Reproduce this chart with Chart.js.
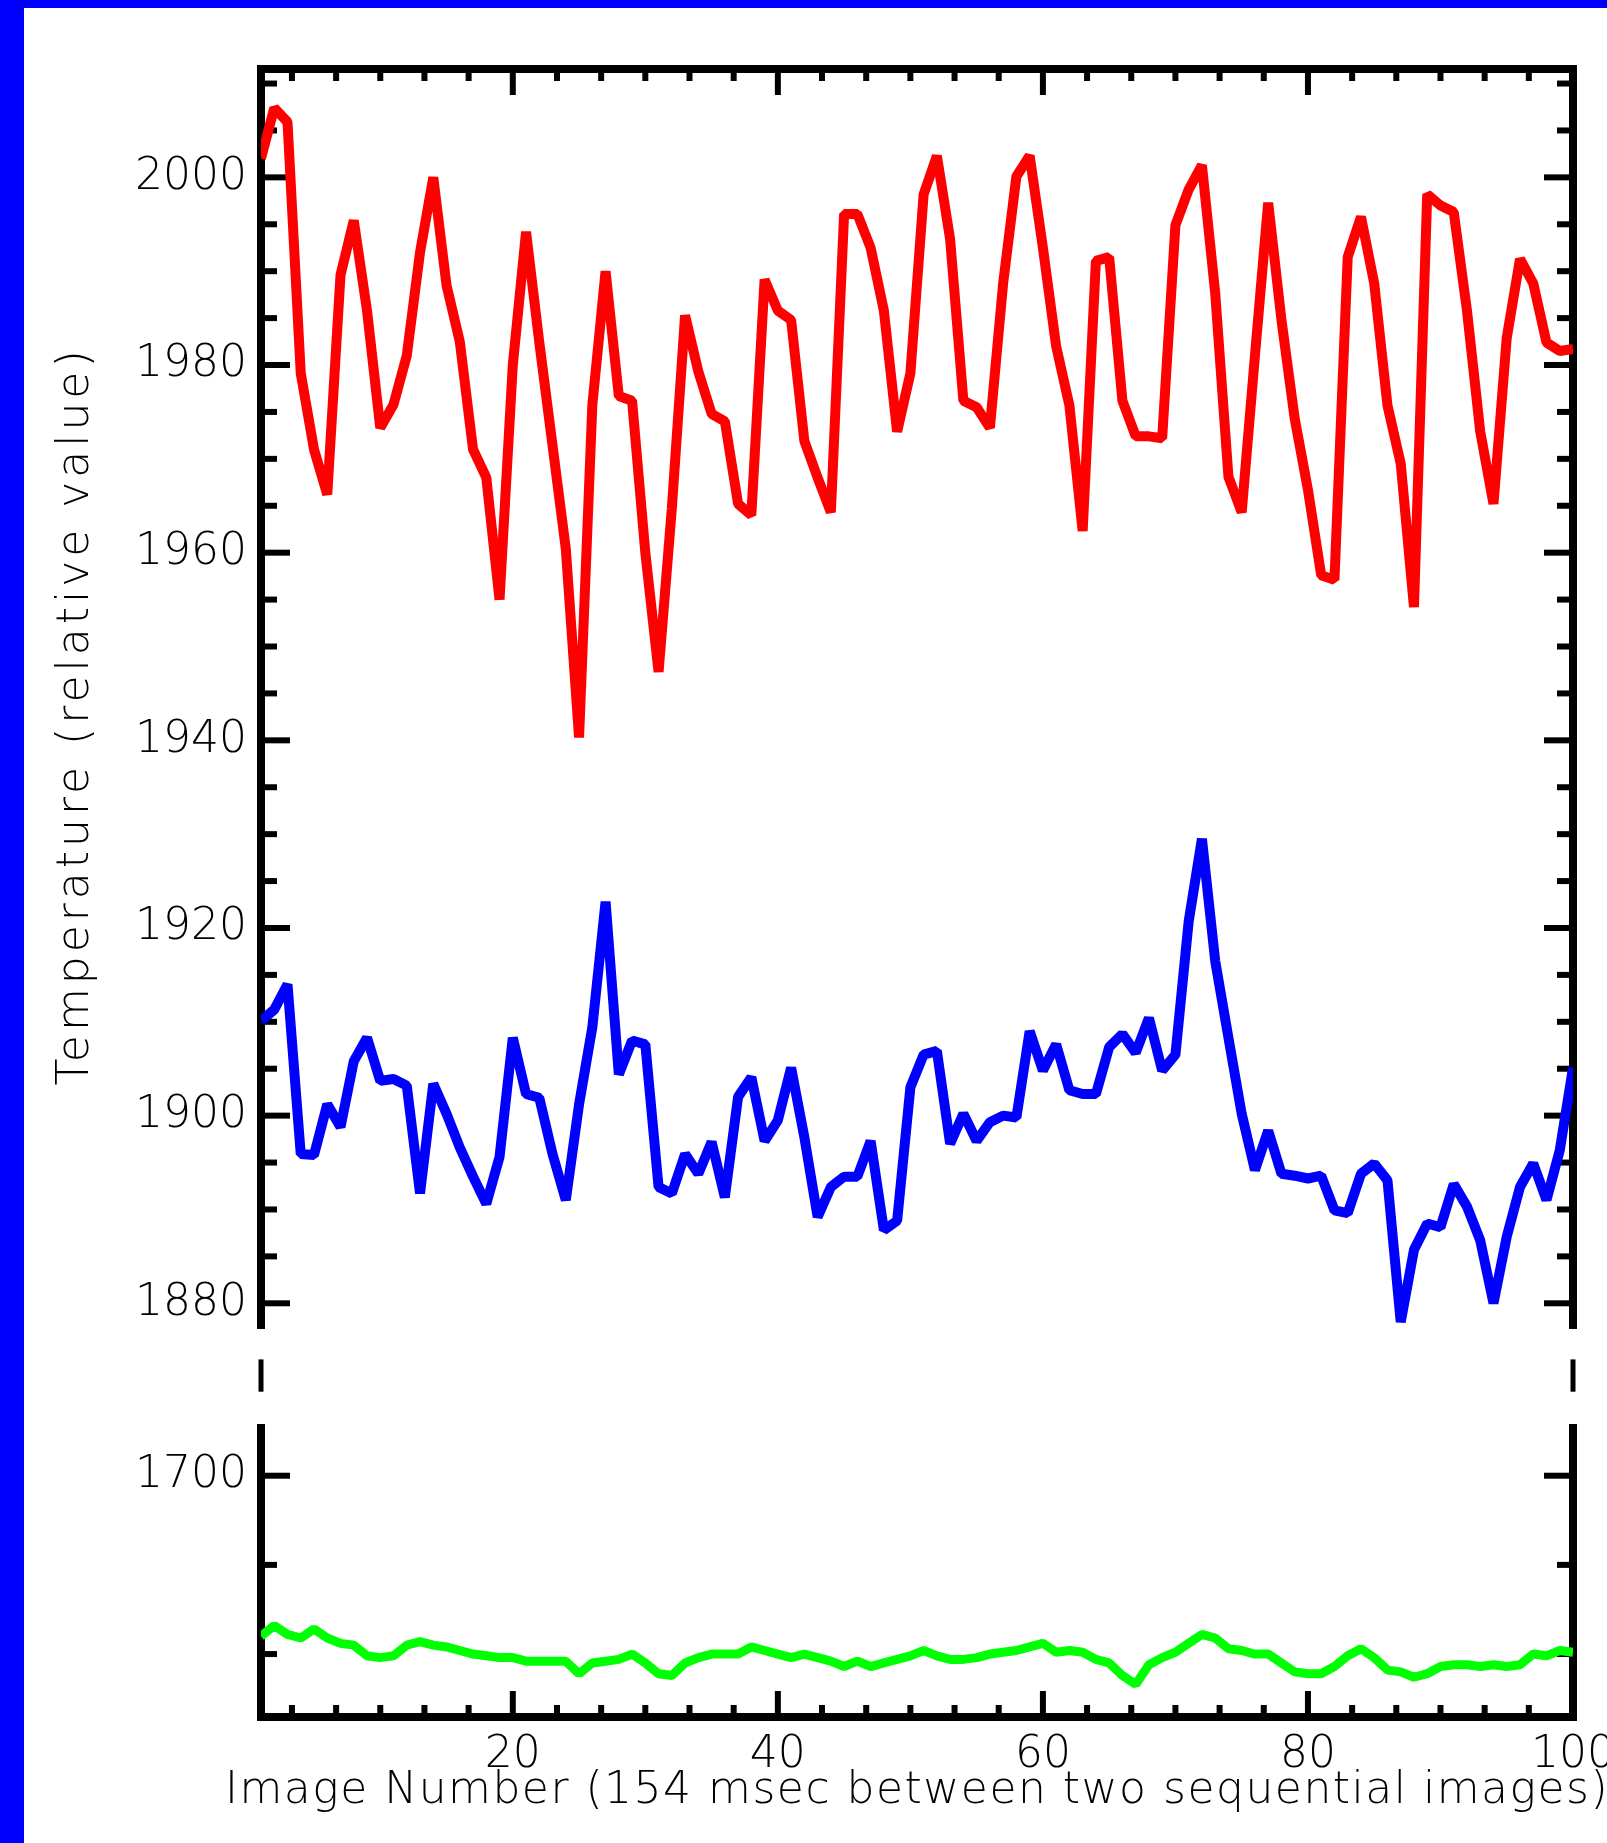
<!DOCTYPE html>
<html>
<head>
<meta charset="utf-8">
<script src="https://cdn.jsdelivr.net/npm/chart.js@4.4.1/dist/chart.umd.min.js"></script>
<style>
  html, body { margin: 0; padding: 0; background: #fff; }
  body { width: 1607px; height: 1843px; position: relative; overflow: hidden; }
  .bar { position: absolute; background: #0000ff; }
  #cv { position: absolute; left: 0; top: 0; }
</style>
</head>
<body>
<div class="bar" style="left:0;top:0;width:24px;height:1843px"></div>
<div class="bar" style="left:0;top:0;width:1607px;height:8px"></div>
<canvas id="cv" width="1607" height="1843"></canvas>
<script>
// image index along the x axis
const imageNumber = Array.from({ length: 100 }, (_, i) => i + 1);

// upper panel, red curve
const redTemp = [
  2002.0, 2007.4, 2005.9, 1979.1, 1971.0, 1966.2, 1989.6, 1995.4, 1985.8, 1973.3,
  1975.8, 1981.0, 1992.0, 2000.0, 1988.5, 1982.5, 1971.0, 1968.0, 1955.0, 1980.0,
  1994.2, 1982.4, 1971.4, 1960.4, 1940.3, 1975.7, 1990.0, 1976.7, 1976.2, 1960.0,
  1947.3, 1964.7, 1985.3, 1979.3, 1974.8, 1974.0, 1965.2, 1964.0, 1989.1, 1985.8,
  1984.8, 1971.9, 1968.0, 1964.3, 1996.1, 1996.1, 1992.5, 1985.8, 1972.9, 1979.1,
  1998.2, 2002.3, 1993.4, 1976.2, 1975.5, 1973.3, 1988.7, 2000.1, 2002.3, 1992.5,
  1982.0, 1975.7, 1962.3, 1991.1, 1991.5, 1976.2, 1972.4, 1972.4, 1972.2, 1994.9,
  1998.7, 2001.3, 1987.7, 1968.1, 1964.3, 1981.0, 1997.3, 1984.8, 1974.3, 1966.7,
  1957.6, 1957.1, 1991.5, 1995.8, 1988.7, 1975.7, 1969.5, 1954.2, 1998.2, 1997.0,
  1996.3, 1985.8, 1972.9, 1965.2, 1982.9, 1991.3, 1988.7, 1982.4, 1981.5, 1981.7
];

// upper panel, blue curve
const blueTemp = [
  1910.1, 1911.3, 1914.0, 1895.9, 1895.8, 1901.2, 1898.8, 1905.8, 1908.3, 1903.7,
  1903.9, 1903.2, 1891.7, 1903.4, 1900.2, 1896.6, 1893.5, 1890.6, 1895.6, 1908.3,
  1902.3, 1901.9, 1895.9, 1891.0, 1901.2, 1909.4, 1922.8, 1904.4, 1908.0, 1907.6,
  1892.4, 1891.7, 1895.9, 1893.8, 1897.2, 1891.3, 1902.0, 1904.1, 1897.3, 1899.5,
  1905.1, 1897.7, 1889.2, 1892.4, 1893.5, 1893.5, 1897.3, 1887.8, 1888.8, 1903.0,
  1906.5, 1906.9, 1897.0, 1900.2, 1897.3, 1899.3, 1900.0, 1899.8, 1909.0, 1904.8,
  1907.6, 1902.7, 1902.3, 1902.3, 1907.3, 1908.7, 1906.7, 1910.4, 1904.8, 1906.5,
  1920.7, 1929.5, 1916.5, 1908.3, 1900.2, 1894.2, 1898.4, 1893.8, 1893.6, 1893.3,
  1893.6, 1889.9, 1889.6, 1893.8, 1894.9, 1893.1, 1878.0, 1885.7, 1888.5, 1888.1,
  1892.7, 1890.3, 1886.7, 1880.0, 1887.1, 1892.4, 1894.9, 1891.0, 1896.3, 1905.1
];

// lower panel, green curve
const greenTemp = [
  1691.0, 1691.6, 1691.1, 1690.9, 1691.4, 1690.9, 1690.6, 1690.5, 1689.9, 1689.8,
  1689.9, 1690.5, 1690.7, 1690.5, 1690.4, 1690.2, 1690.0, 1689.9, 1689.8, 1689.8,
  1689.6, 1689.6, 1689.6, 1689.6, 1688.9, 1689.5, 1689.6, 1689.7, 1690.0, 1689.5,
  1688.9, 1688.8, 1689.5, 1689.8, 1690.0, 1690.0, 1690.0, 1690.4, 1690.2, 1690.0,
  1689.8, 1690.0, 1689.8, 1689.6, 1689.3, 1689.6, 1689.3, 1689.5, 1689.7, 1689.9,
  1690.2, 1689.9, 1689.7, 1689.7, 1689.8, 1690.0, 1690.1, 1690.2, 1690.4, 1690.6,
  1690.1, 1690.2, 1690.1, 1689.7, 1689.5, 1688.8, 1688.3, 1689.4, 1689.8, 1690.1,
  1690.6, 1691.1, 1690.9, 1690.3, 1690.2, 1690.0, 1690.0, 1689.5, 1689.0, 1688.9,
  1688.9, 1689.3, 1689.9, 1690.3, 1689.8, 1689.1, 1689.0, 1688.7, 1688.9, 1689.3,
  1689.4, 1689.4, 1689.3, 1689.4, 1689.3, 1689.4, 1690.0, 1689.9, 1690.2, 1690.1
];

const xTickLabels = [20, 40, 60, 80, 100];
const upperTickLabels = [1880, 1900, 1920, 1940, 1960, 1980, 2000];
const lowerTickLabels = [1700];

const xTitle = 'Image Number (154 msec between two sequential images)';
const yTitle = 'Temperature (relative value)';

const FONT = "'DejaVu Sans', sans-serif";
const LABEL_FONT = { family: FONT, size: 44, weight: 200 };
const pts = arr => arr.map((v, i) => ({ x: imageNumber[i], y: v }));

function line(ctx, x0, y0, x1, y1) {
  ctx.beginPath();
  ctx.moveTo(x0, y0);
  ctx.lineTo(x1, y1);
  ctx.stroke();
}

// IDL style frame: inward ticks on all sides, broken y axis
const idlFrame = {
  id: 'idlFrame',
  beforeDatasetsDraw(chart) {
    const { ctx, chartArea: a, scales } = chart;
    const top = scales.yTop, gap = scales.yGap, bot = scales.yBot, x = scales.x;
    ctx.save();
    ctx.strokeStyle = '#000';
    ctx.lineCap = 'butt';

    ctx.lineWidth = 8;
    line(ctx, a.left - 4, top.top, a.right + 4, top.top);
    line(ctx, a.left, top.top, a.left, top.bottom);
    line(ctx, a.right, top.top, a.right, top.bottom);
    line(ctx, a.left, bot.top, a.left, bot.bottom);
    line(ctx, a.right, bot.top, a.right, bot.bottom);
    line(ctx, a.left - 4, bot.bottom, a.right + 4, bot.bottom);

    // break marks
    ctx.lineWidth = 5;
    const g0 = gap.top + (gap.bottom - gap.top) * 0.32;
    const g1 = gap.top + (gap.bottom - gap.top) * 0.66;
    line(ctx, a.left, g0, a.left, g1);
    line(ctx, a.right, g0, a.right, g1);

    // y ticks every 5, long every 20
    ctx.lineWidth = 6;
    [top, bot].forEach(s => {
      for (let v = Math.ceil(s.min / 5) * 5; v <= s.max; v += 5) {
        const py = s.getPixelForValue(v);
        const len = v % 20 === 0 ? 29 : 16;
        line(ctx, a.left, py, a.left + len, py);
        line(ctx, a.right, py, a.right - len, py);
      }
    });

    // x ticks, six minor intervals per 20
    for (let k = 1; k * 20 / 6 < x.max; k++) {
      const px = x.getPixelForValue(k * 20 / 6);
      const len = k % 6 === 0 ? 26 : 12;
      line(ctx, px, top.top, px, top.top + len);
      line(ctx, px, bot.bottom, px, bot.bottom - len);
    }
    ctx.restore();
  },
  afterDraw(chart) {
    const { ctx, chartArea: a } = chart;
    ctx.save();
    ctx.fillStyle = '#000';
    ctx.font = '200 44px ' + FONT;
    ctx.textAlign = 'center';
    ctx.textBaseline = 'middle';
    ctx.letterSpacing = '1.5px';
    ctx.fillText(xTitle, (a.left + a.right) / 2, 1792);
    ctx.translate(77, 716);
    ctx.rotate(-Math.PI / 2);
    ctx.letterSpacing = '4px';
    ctx.fillText(yTitle, 0, 0);
    ctx.restore();
  }
};

function fixY(scale) {
  scale.width = 261;
  scale.paddingTop = 0;
  scale.paddingBottom = 0;
}

const plainNumber = v => String(v);

const yScaleBase = {
  type: 'linear',
  position: 'left',
  stack: 'panels',
  grid: { display: false },
  border: { display: false },
  title: { display: false },
  afterFit: fixY
};

new Chart(document.getElementById('cv'), {
  type: 'line',
  data: {
    datasets: [
      { data: pts(redTemp), yAxisID: 'yTop', borderColor: '#ff0000', borderWidth: 10 },
      { data: pts(blueTemp), yAxisID: 'yTop', borderColor: '#0000ff', borderWidth: 10 },
      { data: pts(greenTemp), yAxisID: 'yBot', borderColor: '#00ff00', borderWidth: 9 }
    ]
  },
  options: {
    responsive: false,
    animation: false,
    devicePixelRatio: 1,
    layout: { padding: { top: 69, right: 34, bottom: 0, left: 0 } },
    elements: {
      point: { radius: 0 },
      line: { tension: 0, fill: false, borderJoinStyle: 'bevel', borderCapStyle: 'butt' }
    },
    plugins: { legend: { display: false }, tooltip: { enabled: false } },
    scales: {
      x: {
        type: 'linear',
        position: 'bottom',
        min: 1,
        max: 100,
        grid: { display: false },
        border: { display: false },
        afterBuildTicks: s => { s.ticks = xTickLabels.map(v => ({ value: v })); },
        afterFit: s => { s.height = 126; s.paddingLeft = 0; s.paddingRight = 0; },
        ticks: {
          autoSkip: false, maxRotation: 0, padding: 4, color: '#000',
          font: LABEL_FONT, callback: plainNumber
        }
      },
      yBot: Object.assign({}, yScaleBase, {
        min: 1686.47,
        max: 1702.9,
        stackWeight: 293,
        afterBuildTicks: s => { s.ticks = lowerTickLabels.map(v => ({ value: v })); },
        ticks: { padding: 6, color: '#000', font: LABEL_FONT, callback: plainNumber }
      }),
      yGap: Object.assign({}, yScaleBase, {
        min: 0,
        max: 1,
        stackWeight: 95,
        ticks: { display: false }
      }),
      yTop: Object.assign({}, yScaleBase, {
        min: 1877.26,
        max: 2011.55,
        stackWeight: 1260,
        afterBuildTicks: s => { s.ticks = upperTickLabels.map(v => ({ value: v })); },
        ticks: { padding: 6, color: '#000', font: LABEL_FONT, callback: plainNumber }
      })
    }
  },
  plugins: [idlFrame]
});
</script>
</body>
</html>
